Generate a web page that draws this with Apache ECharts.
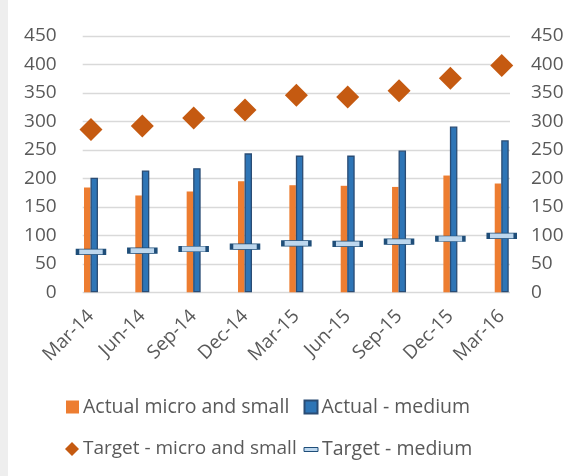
<!DOCTYPE html>
<html><head><meta charset="utf-8">
<script src="https://cdn.jsdelivr.net/npm/echarts@6/dist/echarts.min.js"></script>
<style>html,body{margin:0;padding:0;background:#fff}#c{width:578px;height:476px}</style>
</head><body><div id="c"></div>
<script>
var categories = ['Mar-14','Jun-14','Sep-14','Dec-14','Mar-15','Jun-15','Sep-15','Dec-15','Mar-16'];
var actualSmall = [184,170,177,195,188,187,185,205,191];
var actualMedium = [201,214,218,244,240,240,249,291,267];
var targetSmall = [286,292,306,320,346,343,354,376,398];
var targetMedium = [71,73,76,80,86,85,89,94,99];
var yTicks = {min:0, max:450, interval:50};

var FONT = '"Open Sans"';
var TXT = '#595959';
var chart = echarts.init(document.getElementById('c'), null, {renderer:'canvas'});
var lbl = {color:TXT, fontFamily:FONT, fontSize:19};
function legend(name, left, top, icon, w, h, fs, extra){
  var o = {data:[{name:name, icon:icon}], left:left, top:top, itemWidth:w, itemHeight:h,
    itemGap:0, padding:0, selectedMode:false, textStyle:{color:TXT, fontFamily:FONT, fontSize:fs, padding:[0,0,0,-1]}};
  if (extra) o.itemStyle = extra;
  return o;
}
chart.setOption({
  animation:false,
  backgroundColor:'#fff',
  graphic:[{type:'rect', left:0, top:0, shape:{width:8, height:476}, style:{fill:'#eeeeee'}, silent:true}],
  grid:[
    {left:82.7, right:68, top:36, bottom:183.7},
    {left:65.3, right:50.6, top:36, bottom:183.7}
  ],
  xAxis:[
    {type:'category', gridIndex:0, data:categories, show:false},
    {type:'category', gridIndex:1, data:categories,
     axisLine:{show:false}, axisTick:{show:false},
     axisLabel:Object.assign({rotate:45, margin:21, interval:0}, lbl)}
  ],
  yAxis:[
    {type:'value', gridIndex:0, min:yTicks.min, max:yTicks.max, interval:yTicks.interval, position:'left',
     axisLine:{show:false}, axisTick:{show:false},
     axisLabel:Object.assign({margin:26}, lbl),
     splitLine:{lineStyle:{color:'#d9d9d9', width:1.3}}},
    {type:'value', gridIndex:0, min:yTicks.min, max:yTicks.max, interval:yTicks.interval, position:'right',
     axisLine:{show:false}, axisTick:{show:false},
     axisLabel:Object.assign({margin:21, align:'left'}, lbl),
     splitLine:{show:false}},
    {type:'value', gridIndex:1, min:yTicks.min, max:yTicks.max, interval:yTicks.interval, show:false}
  ],
  legend:[
    legend('Actual micro and small', 66, 397, 'rect', 13, 13, 19.5),
    legend('Actual - medium', 303.5, 397, 'rect', 13, 13, 19.5),
    legend('Target - micro and small', 65, 439.5, 'diamond', 14, 14, 19),
    legend('Target - medium', 303.5, 439.5, 'rect', 14, 4, 19.5, {borderWidth:1})
  ],
  series:[
    {name:'Actual micro and small', type:'bar', xAxisIndex:1, yAxisIndex:2, data:actualSmall,
     barWidth:6.5, barGap:'0%', itemStyle:{color:'#ed7d31'}},
    {name:'Actual - medium', type:'bar', xAxisIndex:1, yAxisIndex:2, data:actualMedium,
     barWidth:7.5, barGap:'0%', itemStyle:{color:'#2e75b6', borderColor:'#2a4c74', borderWidth:1.3}},
    {name:'Target - medium', type:'scatter', xAxisIndex:1, yAxisIndex:2, data:targetMedium, z:5,
     symbol:'rect', symbolSize:[27,5.5], itemStyle:{color:'#bdd7ee', borderColor:'#1f4e79', borderWidth:1.6, opacity:1}},
    {name:'Target - micro and small', type:'scatter', xAxisIndex:1, yAxisIndex:2, data:targetSmall, z:6,
     symbol:'diamond', symbolSize:23, itemStyle:{color:'#c55a11', opacity:1}}
  ]
});
</script></body></html>
